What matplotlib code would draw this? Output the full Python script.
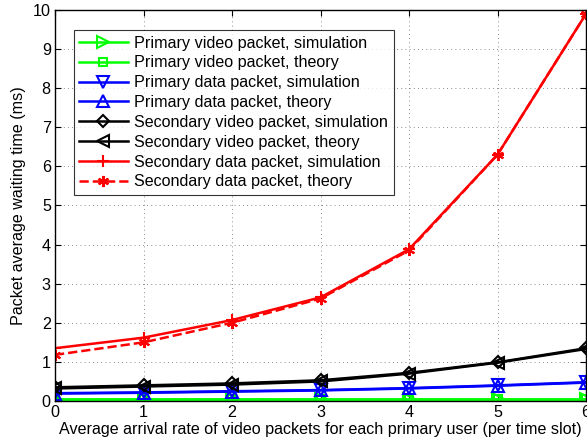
import numpy as np
import matplotlib
matplotlib.use("Agg")
import matplotlib.pyplot as plt

plt.rcParams["font.family"] = ["Liberation Sans", "DejaVu Sans"]

# data
x = [0, 1, 2, 3, 4, 5, 6]
pv_sim = [0.04, 0.04, 0.04, 0.04, 0.04, 0.04, 0.04]
pv_th = [0.04, 0.04, 0.04, 0.04, 0.04, 0.04, 0.04]
pd_sim = [0.20, 0.22, 0.25, 0.28, 0.33, 0.40, 0.48]
pd_th = [0.19, 0.21, 0.24, 0.27, 0.32, 0.39, 0.47]
sv_sim = [0.35, 0.40, 0.45, 0.53, 0.72, 0.99, 1.35]
sv_th = [0.32, 0.37, 0.42, 0.50, 0.70, 0.98, 1.33]
sd_sim = [1.35, 1.62, 2.07, 2.65, 3.88, 6.30, 9.90]
sd_th = [1.18, 1.50, 2.00, 2.62, 3.85, 6.30, 9.90]

labels = ["Primary video packet, simulation",
          "Primary video packet, theory",
          "Primary data packet, simulation",
          "Primary data packet, theory",
          "Secondary video packet, simulation",
          "Secondary video packet, theory",
          "Secondary data packet, simulation",
          "Secondary data packet, theory"]

fs = 11.6
fig = plt.figure(figsize=(5.87, 4.46), dpi=100)
ax = fig.add_axes([0.0937, 0.1009, 0.9046, 0.8767])

green = "#00ff00"
kw = dict(lw=1.8, ms=8, mew=1.5)
ax.plot(x, pv_sim, color=green, marker=">", mfc="none", label=labels[0], **kw)
ax.plot(x, pv_th, color=green, marker="s", mfc="none", ms=6, lw=1.8, mew=1.5, label=labels[1])
ax.plot(x, pd_sim, color="blue", marker="v", mfc="none", label=labels[2], **kw)
ax.plot(x, pd_th, color="blue", marker="^", mfc="none", label=labels[3], **kw)
ax.plot(x, sv_sim, color="black", marker="D", mfc="none", ms=6, lw=1.8, mew=1.5, label=labels[4])
ax.plot(x, sv_th, color="black", marker="<", mfc="none", label=labels[5], **kw)
ax.plot(x, sd_sim, color="red", marker="+", label=labels[6], **kw)
ax.plot(x, sd_th, color="red", marker=(6, 2, 0), ls="--", label=labels[7], **kw)

ax.set_xlim(0, 6)
ax.set_ylim(0, 10)
ax.set_xticks(range(7))
ax.set_yticks(range(11))
ax.grid(True, color="black", ls=(0, (1, 4)), lw=0.6, alpha=0.6)
ax.tick_params(direction="in", labelsize=fs, length=4, top=True, right=True, pad=3)
for s in ax.spines.values():
    s.set_linewidth(1.0)
ax.set_xlabel("Average arrival rate of video packets for each primary user (per time slot)",
              fontsize=fs, labelpad=1)
ax.set_ylabel("Packet average waiting time (ms)", fontsize=fs, labelpad=5)

leg = ax.legend(loc="upper left", bbox_to_anchor=(0.035, 0.949), fontsize=fs,
                frameon=True, fancybox=False, edgecolor="black", handlelength=3.0,
                labelspacing=0.3, borderpad=0.35, handletextpad=0.4,
                borderaxespad=0)
leg.get_frame().set_linewidth(0.8)

fig.savefig("out.png", dpi=100)
